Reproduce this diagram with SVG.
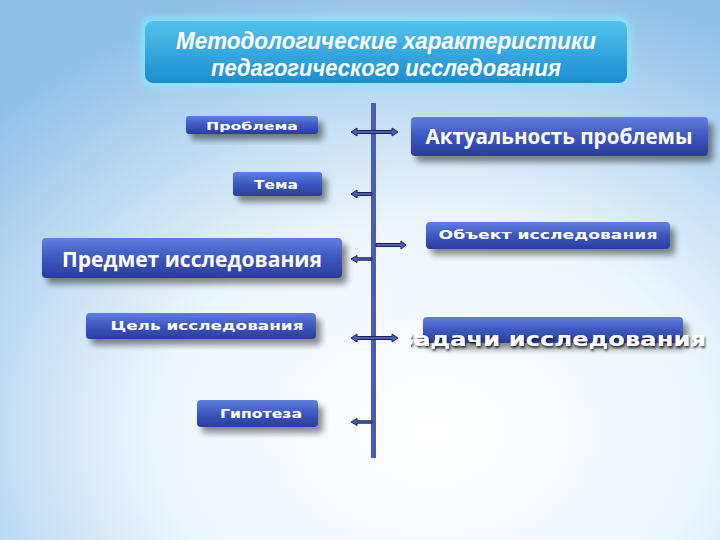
<svg xmlns="http://www.w3.org/2000/svg" width="720" height="540" viewBox="0 0 720 540">
<defs>
<radialGradient id="bg" cx="0.6" cy="0.8" r="0.85" fx="0.6" fy="0.8">
<stop offset="0" stop-color="#ffffff"/>
<stop offset="0.45" stop-color="#eef6fd"/>
<stop offset="1" stop-color="#8fc0e8"/>
</radialGradient>
<linearGradient id="box" x1="0" y1="0" x2="0" y2="1">
<stop offset="0" stop-color="#5f7fe0"/>
<stop offset="0.5" stop-color="#3d57c0"/>
<stop offset="1" stop-color="#2a3c9c"/>
</linearGradient>
<linearGradient id="title" x1="0" y1="0" x2="0" y2="1">
<stop offset="0" stop-color="#52c3ee"/>
<stop offset="1" stop-color="#1c8dd0"/>
</linearGradient>
<clipPath id="zclip"><rect x="411" y="300" width="309" height="60"/></clipPath>
<filter id="sh" x="-20%" y="-40%" width="150%" height="200%">
<feGaussianBlur in="SourceAlpha" stdDeviation="3"/>
<feOffset dx="5" dy="6" result="o"/>
<feComponentTransfer><feFuncA type="linear" slope="0.45"/></feComponentTransfer>
<feMerge><feMergeNode/><feMergeNode in="SourceGraphic"/></feMerge>
</filter>
<filter id="glow2" x="-10%" y="-40%" width="120%" height="180%">
<feMorphology in="SourceAlpha" operator="dilate" radius="3" result="d"/>
<feGaussianBlur in="d" stdDeviation="4" result="b"/>
<feFlood flood-color="#8fe6ff"/>
<feComposite in2="b" operator="in"/>
<feMerge><feMergeNode/><feMergeNode in="SourceGraphic"/></feMerge>
</filter>
<filter id="tsh" x="-5%" y="-20%" width="110%" height="140%">
<feGaussianBlur in="SourceAlpha" stdDeviation="1"/>
<feOffset dx="1" dy="2"/>
<feComponentTransfer><feFuncA type="linear" slope="0.7"/></feComponentTransfer>
<feMerge><feMergeNode/><feMergeNode in="SourceGraphic"/></feMerge>
</filter>
<style>
.b{fill:url(#box);filter:url(#sh)}
.s{font-family:"DejaVu Sans",sans-serif;font-weight:bold;fill:#ffffff;text-anchor:middle}
.l{font-family:"Open Sans","Liberation Sans",sans-serif;font-weight:bold;fill:#ffffff;text-anchor:middle}
.a{fill:#4a5cb8;stroke:#1c2360;stroke-width:1}
</style>
</defs>
<rect width="720" height="540" fill="url(#bg)"/>

<g id="title-node">
<rect x="145" y="21" width="482" height="62" rx="8" fill="url(#title)" filter="url(#glow2)"/>
<text x="386" y="49" font-family="Liberation Sans, sans-serif" font-weight="bold" font-style="italic" font-size="23" fill="#ffffff" text-anchor="middle" textLength="420" lengthAdjust="spacingAndGlyphs">Методологические характеристики</text>
<text x="386" y="76" font-family="Liberation Sans, sans-serif" font-weight="bold" font-style="italic" font-size="23" fill="#ffffff" text-anchor="middle" textLength="350" lengthAdjust="spacingAndGlyphs">педагогического исследования</text>
</g>

<g id="connectors">
<rect x="371" y="103" width="5" height="355" fill="#4a5cb8"/>
<path class="a" d="M351,132 l6,-4 v2.5 h35 v-2.5 l6,4 l-6,4 v-2.5 h-35 v2.5 z"/>
<path class="a" d="M351,194 l6,-4 v2.5 h15 v3 h-15 v2.5 z"/>
<path class="a" d="M376,243.5 h25 v-2.5 l5,4 l-5,4 v-2.5 h-25 z"/>
<path class="a" d="M351,259 l6,-3.5 v2.3 h15 v2.4 h-15 v2.3 z"/>
<path class="a" d="M351,338 l6,-4 v2.5 h35 v-2.5 l6,4 l-6,4 v-2.5 h-35 v2.5 z"/>
<path class="a" d="M351,422 l6,-3.5 v2.3 h15 v2.4 h-15 v2.3 z"/>
</g>

<g id="problema">
<rect class="b" x="186" y="116" width="132" height="18" rx="3"/>
<text class="s" x="252" y="130" font-size="11" textLength="92" lengthAdjust="spacingAndGlyphs">Проблема</text>
</g>

<g id="tema">
<rect class="b" x="233" y="172" width="89" height="24" rx="3"/>
<text class="s" x="276" y="189" font-size="12" textLength="44" lengthAdjust="spacingAndGlyphs">Тема</text>
</g>

<g id="aktualnost">
<rect class="b" x="411" y="117" width="297" height="39" rx="4"/>
<text class="l" x="559" y="144" font-size="21" textLength="267" lengthAdjust="spacingAndGlyphs">Актуальность проблемы</text>
</g>

<g id="obekt">
<rect class="b" x="426" y="222" width="244" height="27" rx="4"/>
<text class="s" x="548" y="239" font-size="13" textLength="219" lengthAdjust="spacingAndGlyphs">Объект исследования</text>
</g>

<g id="predmet">
<rect class="b" x="42" y="238" width="300" height="40" rx="4"/>
<text class="l" x="192" y="267" font-size="22" textLength="260" lengthAdjust="spacingAndGlyphs">Предмет исследования</text>
</g>

<g id="tsel">
<rect class="b" x="86" y="313" width="230" height="26" rx="4"/>
<text class="s" x="207" y="330" font-size="13" textLength="193" lengthAdjust="spacingAndGlyphs">Цель исследования</text>
</g>

<g id="zadachi">
<rect class="b" x="423" y="317" width="260" height="26" rx="4"/>
<g clip-path="url(#zclip)">
<text x="397" y="346" font-family="DejaVu Sans, sans-serif" font-weight="bold" font-size="19" fill="#ffffff" filter="url(#tsh)" textLength="309" lengthAdjust="spacingAndGlyphs">Задачи исследования</text>
</g>
</g>

<g id="gipoteza">
<rect class="b" x="197" y="400" width="121" height="27" rx="4"/>
<text class="s" x="261" y="418" font-size="13" textLength="82" lengthAdjust="spacingAndGlyphs">Гипотеза</text>
</g>
</svg>
